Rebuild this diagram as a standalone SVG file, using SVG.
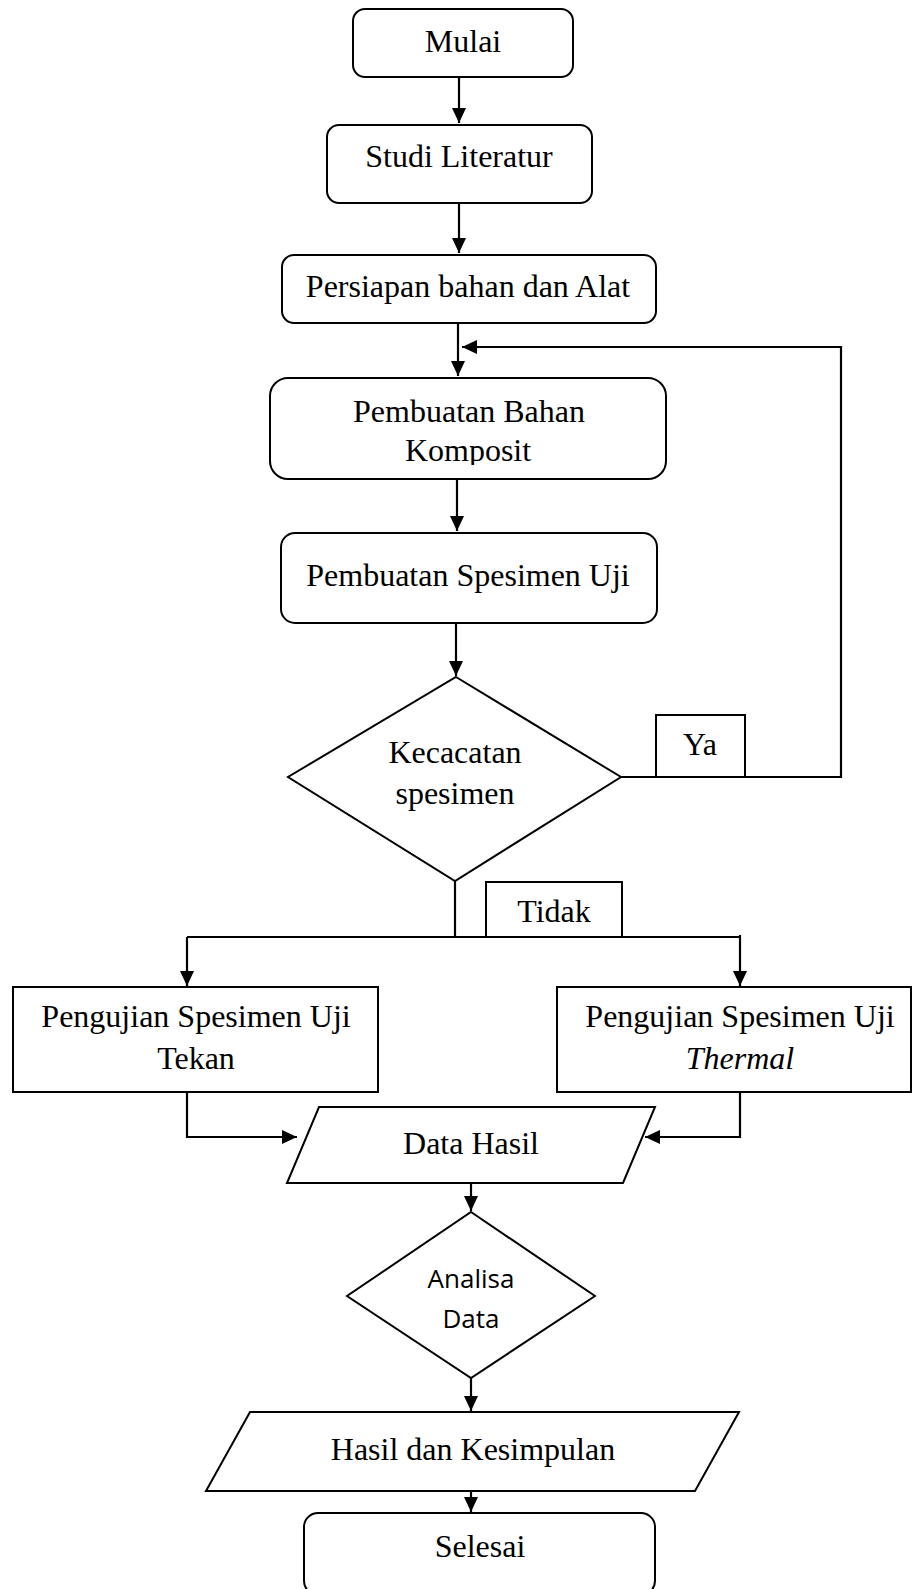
<svg xmlns="http://www.w3.org/2000/svg" width="912" height="1589" viewBox="0 0 912 1589">
<style>
.box{fill:#fff;stroke:#000;stroke-width:2}
.t{font-family:"Liberation Serif","Times New Roman",serif;font-size:32px;fill:#000;text-anchor:middle}
.s{font-family:"Open Sans","Noto Sans",sans-serif;font-size:26px;fill:#000;text-anchor:middle}
.c{fill:none;stroke:#000;stroke-width:2.2}
</style>
<defs>
<marker id="ah" markerUnits="userSpaceOnUse" markerWidth="16" markerHeight="14" refX="15" refY="7" orient="auto">
<path d="M0,0 L15,7 L0,14 z" fill="#000"/>
</marker>
<clipPath id="clipK"><rect x="270" y="378" width="396" height="87"/></clipPath>
</defs>
<rect width="912" height="1589" fill="#fff"/>

<g id="connectors">
<path class="c" d="M459,77 V123" marker-end="url(#ah)"/>
<path class="c" d="M459,203 V253" marker-end="url(#ah)"/>
<path class="c" d="M458,323 V376" marker-end="url(#ah)"/>
<path class="c" d="M621,777 H841 V347 H462" marker-end="url(#ah)"/>
<path class="c" d="M457,479 V531" marker-end="url(#ah)"/>
<path class="c" d="M456,623 V676" marker-end="url(#ah)"/>
<path class="c" d="M455,881 V937"/>
<path class="c" d="M187,937 H740"/>
<path class="c" d="M187,937 V986" marker-end="url(#ah)"/>
<path class="c" d="M740,935 V986" marker-end="url(#ah)"/>
<path class="c" d="M187,1092 V1137 H297" marker-end="url(#ah)"/>
<path class="c" d="M740,1092 V1137 H645" marker-end="url(#ah)"/>
<path class="c" d="M471,1183 V1211" marker-end="url(#ah)"/>
<path class="c" d="M471,1378 V1411" marker-end="url(#ah)"/>
<path class="c" d="M471,1477 V1512" marker-end="url(#ah)"/>
</g>

<g id="mulai">
<rect class="box" x="353" y="9" width="220" height="68" rx="12"/>
<text class="t" x="463" y="52">Mulai</text>
</g>
<g id="studi">
<rect class="box" x="327" y="125" width="265" height="78" rx="12"/>
<text class="t" x="459" y="167">Studi Literatur</text>
</g>
<g id="persiapan">
<rect class="box" x="282" y="255" width="374" height="68" rx="12"/>
<text class="t" x="468" y="297">Persiapan bahan dan Alat</text>
</g>
<g id="pembuatan-bahan">
<rect class="box" x="270" y="378" width="396" height="101" rx="18"/>
<text class="t" x="469" y="422">Pembuatan Bahan</text>
<text class="t" x="468" y="461" clip-path="url(#clipK)">Komposit</text>
</g>
<g id="pembuatan-spesimen">
<rect class="box" x="281" y="533" width="376" height="90" rx="14"/>
<text class="t" x="468" y="586">Pembuatan Spesimen Uji</text>
</g>
<g id="kecacatan">
<polygon class="box" points="456,677 621,777 455,881 288,777"/>
<text class="t" x="455" y="763">Kecacatan</text>
<text class="t" x="455" y="804">spesimen</text>
</g>
<g id="ya">
<rect class="box" x="656" y="715" width="89" height="62"/>
<text class="t" x="700" y="755">Ya</text>
</g>
<g id="tidak">
<rect class="box" x="486" y="882" width="136" height="55"/>
<text class="t" x="554" y="922">Tidak</text>
</g>
<g id="uji-tekan">
<rect class="box" x="13" y="987" width="365" height="105"/>
<text class="t" x="196" y="1027">Pengujian Spesimen Uji</text>
<text class="t" x="196" y="1069">Tekan</text>
</g>
<g id="uji-thermal">
<rect class="box" x="557" y="987" width="354" height="105"/>
<text class="t" x="740" y="1027">Pengujian Spesimen Uji</text>
<text class="t" x="740" y="1069" font-style="italic">Thermal</text>
</g>
<g id="data-hasil">
<polygon class="box" points="319,1107 655,1107 623,1183 287,1183"/>
<text class="t" x="471" y="1154">Data Hasil</text>
</g>
<g id="analisa">
<polygon class="box" points="471,1212 595,1296 471,1378 347,1296"/>
<text class="s" x="471" y="1288">Analisa</text>
<text class="s" x="471" y="1328">Data</text>
</g>
<g id="hasil-kesimpulan">
<polygon class="box" points="250,1412 739,1412 695,1491 206,1491"/>
<text class="t" x="473" y="1460">Hasil dan Kesimpulan</text>
</g>
<g id="selesai">
<rect class="box" x="304" y="1513" width="351" height="82" rx="14"/>
<text class="t" x="480" y="1557">Selesai</text>
</g>
</svg>
